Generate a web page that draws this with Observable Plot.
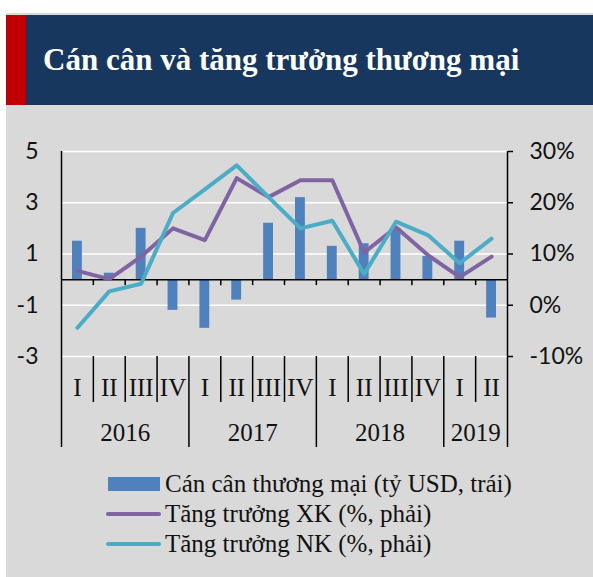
<!DOCTYPE html>
<html>
<head>
<meta charset="utf-8">
<script src="https://cdn.jsdelivr.net/npm/d3@7"></script>
<script src="https://cdn.jsdelivr.net/npm/@observablehq/plot@0.6"></script>
<style>
  html, body { margin: 0; padding: 0; background: #fff; }
  #page { position: relative; width: 593px; height: 577px; overflow: hidden; }
  #panel { position: absolute; left: 6px; top: 13px; width: 587px; height: 564px; background: #d9d9d9; }
  #header { position: absolute; left: 6px; top: 15px; width: 587px; height: 90px; background: #17375e; }
  #stripe { position: absolute; left: 0; top: 0; width: 20px; height: 90px; background: #c00000; }
  #title { position: absolute; left: 37px; top: 0; height: 90px; display: flex; align-items: center;
           font-family: "Liberation Serif", serif; font-weight: bold; font-size: 31px; color: #fff; white-space: nowrap; }
  #chart { position: absolute; left: 0; top: 105px; }
  #legend { position: absolute; left: 106px; top: 469px; font-family: "Liberation Serif", serif; font-size: 25px; color: #111; }
  .row { display: flex; align-items: center; height: 30px; white-space: nowrap; }
  .sw { width: 55px; margin-right: 4px; display: flex; align-items: center; justify-content: center; }
  .bar { width: 52px; height: 14px; background: #4f81bd; }
  .ln { width: 55px; height: 4px; border-radius: 2px; }
</style>
</head>
<body>
<div id="page">
  <div id="panel"></div>
  <div id="header"><div id="stripe"></div><div id="title">Cán cân và tăng trưởng thương mại</div></div>
  <div id="chart"></div>
  <div id="legend"></div>
</div>
<script>
// ---- data ----
const quarters = ["I","II","III","IV","I","II","III","IV","I","II","III","IV","I","II"];
const years = ["2016","2017","2018","2019"];
const yearCounts = [4, 4, 4, 2];
const balance = [1.5, 0.25, 2.0, -1.2, -1.9, -0.8, 2.2, 3.2, 1.3, 1.4, 2.0, 0.9, 1.5, -1.5]; // tỷ USD (left)
const exportGrowth = [6.7, 5.1, 9.5, 15.0, 12.7, 24.8, 21.1, 24.4, 24.4, 10.3, 15.2, 9.8, 5.5, 9.5]; // % (right)
const importGrowth = [-4.4, 2.7, 4.2, 18.0, 22.6, 27.3, 21.1, 15.0, 16.5, 6.1, 16.3, 13.7, 8.2, 13.0]; // % (right)
const leftTicks = [-3, -1, 1, 3, 5];
const rightTicks = [-10, 0, 10, 20, 30];
const leftDomain = [-3, 5];
const rightDomain = [-10, 30];
const seriesNames = ["Cán cân thương mại (tỷ USD, trái)", "Tăng trưởng XK (%, phải)", "Tăng trưởng NK (%, phải)"];
const colors = {bar: "#4f81bd", xk: "#8064a2", nk: "#4bacc6"};

// map right-axis (%) values onto the left scale domain
const toLeft = p => leftDomain[0] + (p - rightDomain[0]) * (leftDomain[1] - leftDomain[0]) / (rightDomain[1] - rightDomain[0]);

const rows = quarters.map((q, i) => ({i, q, bal: balance[i], xk: toLeft(exportGrowth[i]), nk: toLeft(importGrowth[i])}));
let start = 0;
const yearRows = years.map((y, k) => { const r = {year: y, start, end: start + yearCounts[k]}; start += yearCounts[k]; return r; });
const n = quarters.length;
const innerBounds = d3.range(1, n);
// separators of the category box: edges run the full height, year bounds go to the bottom, quarter bounds stop under the quarter labels
const seps = d3.range(0, n + 1).map(b => ({
  b,
  top: (b === 0 || b === n) ? leftDomain[1] : leftDomain[0],
  long: b === 0 || b === n || yearRows.some(r => r.end === b)
}));

const numFont = "Lato, sans-serif";
const serif = "'Liberation Serif', serif";

const chart = Plot.plot({
  width: 593,
  height: 355,
  marginLeft: 61,
  marginRight: 86,
  marginTop: 46,
  marginBottom: 104,
  style: {background: "transparent", overflow: "visible"},
  x: {type: "linear", domain: [0, n], axis: null},
  y: {domain: leftDomain, axis: null},
  marks: [
    Plot.ruleY(leftTicks, {stroke: "#fff", strokeWidth: 1.5}),
    Plot.rectY(rows, {x1: d => d.i, x2: d => d.i + 1, y1: 0, y2: "bal", fill: colors.bar, insetLeft: 11, insetRight: 11}),
    Plot.ruleY([0], {stroke: "#000", strokeWidth: 1.5}),
    Plot.ruleX(innerBounds, {x: d => d, y1: 0, y2: 0, insetBottom: -6, stroke: "#000", strokeWidth: 1.5}),
    Plot.line(rows, {x: d => d.i + 0.5, y: "xk", stroke: colors.xk, strokeWidth: 4, strokeLinejoin: "round", strokeLinecap: "round"}),
    Plot.line(rows, {x: d => d.i + 0.5, y: "nk", stroke: colors.nk, strokeWidth: 4, strokeLinejoin: "round", strokeLinecap: "round"}),
    Plot.ruleX(seps.filter(s => s.long), {x: "b", y1: "top", y2: leftDomain[0], insetBottom: -91, stroke: "#000", strokeWidth: 1.5}),
    Plot.ruleX(seps.filter(s => !s.long), {x: "b", y1: "top", y2: leftDomain[0], insetBottom: -46, stroke: "#000", strokeWidth: 1.5}),
    Plot.axisY(leftTicks, {anchor: "left", tickSize: 0, tickPadding: 23, fontSize: 23, fontFamily: numFont, fill: "#111",
      tickFormat: d => d}),
    Plot.axisY(rightTicks.map(toLeft), {anchor: "right", tickSize: 5, tickPadding: 17, fontSize: 23, fontFamily: numFont, fill: "#111",
      stroke: "#000", strokeWidth: 1.5, tickFormat: (d, k) => rightTicks[k] + "%"}),
    Plot.text(rows, {x: d => d.i + 0.5, y: leftDomain[0], dy: 31, text: "q", fontSize: 25, fontFamily: serif, fill: "#111"}),
    Plot.text(yearRows, {x: d => (d.start + d.end) / 2, y: leftDomain[0], dy: 76, text: "year", fontSize: 25, fontFamily: serif, fill: "#111"})
  ]
});
document.getElementById("chart").appendChild(chart);

// legend
const legend = document.getElementById("legend");
const swatches = [`<span class="bar"></span>`, `<span class="ln" style="background:${colors.xk}"></span>`, `<span class="ln" style="background:${colors.nk}"></span>`];
seriesNames.forEach((name, k) => {
  const row = document.createElement("div");
  row.className = "row";
  row.innerHTML = `<span class="sw">${swatches[k]}</span><span>${name}</span>`;
  legend.appendChild(row);
});
</script>
</body>
</html>
